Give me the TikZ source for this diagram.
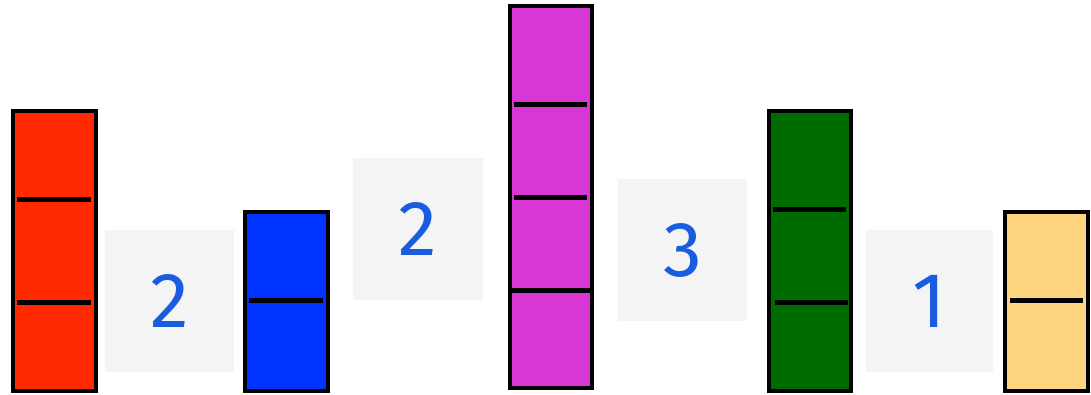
\documentclass[tikz,border=0pt]{standalone}
\usepackage{fontspec}
\newfontfamily\handfont{Fira Sans}
\definecolor{redbar}{HTML}{FF2A00}
\definecolor{bluebar}{HTML}{0033FF}
\definecolor{pinkbar}{HTML}{D936D6}
\definecolor{greenbar}{HTML}{006B00}
\definecolor{sandbar}{HTML}{FFD47E}
\definecolor{cardgray}{HTML}{F4F4F5}
\definecolor{ink}{HTML}{1A5CE0}
\tikzset{
  bar/.style={draw=black, line width=4pt},
  tick/.style={draw=black, line width=5pt},
  card/.style={fill=cardgray, text=ink, inner sep=0pt, minimum width=129pt,
    minimum height=142pt, font=\handfont\fontsize{78}{78}\selectfont}
}
\begin{document}
\begin{tikzpicture}[x=1pt, y=-1pt]
    \useasboundingbox (0,0) rectangle (1091,394);
    % bars
    \draw[bar, fill=redbar] (13,111) rectangle (96,391);
    \draw[bar, fill=bluebar] (245,212) rectangle (328,391);
    \draw[bar, fill=pinkbar] (510,6) rectangle (592,388);
    \draw[bar, fill=greenbar] (769,111) rectangle (851,391);
    \draw[bar, fill=sandbar] (1005,212) rectangle (1088,391);
    % dividers
    \foreach \y in {199,302}
      \draw[tick] (17,\y) -- (91,\y);
    \draw[tick] (249,300) -- (323,300);
    \foreach \y in {104,197}
      \draw[tick] (514,\y) -- (587,\y);
    \draw[tick] (510,290) -- (590,290);
    \draw[tick] (773,209) -- (846,209);
    \draw[tick] (775,302) -- (848,302);
    \draw[tick] (1010,300) -- (1083,300);
    % number cards
    \node[card] (twoA) at (169.5,301) {2};
    \node[card, minimum width=130pt] (twoB) at (418,229) {2};
    \node[card] (three) at (682.5,250) {3};
    \node[card, minimum width=127pt] (one) at (929.5,301) {1};
\end{tikzpicture}
\end{document}
